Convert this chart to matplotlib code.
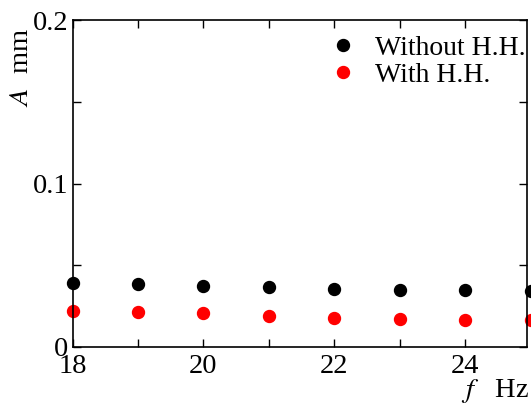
import numpy as np
import matplotlib.pyplot as plt

plt.rcParams['font.family'] = ['Liberation Serif', 'DejaVu Serif']
plt.rcParams['mathtext.fontset'] = 'stix'

f = [18, 19, 20, 21, 22, 23, 24, 25]
amp_without = [0.0393, 0.0385, 0.0375, 0.0365, 0.0357, 0.0350, 0.0349, 0.0344]
amp_with = [0.0222, 0.0216, 0.0206, 0.0191, 0.0177, 0.0169, 0.0167, 0.0165]

fig = plt.figure(figsize=(5.31, 4.07), dpi=100)
ax = fig.add_axes([72.5/531, 1 - 347/407, (527 - 72.5)/531, (347 - 20)/407])

ax.plot(f, amp_without, 'o', color='black', ms=8.6, clip_on=False, label='Without H.H.')
ax.plot(f, amp_with, 'o', color='red', ms=8.6, clip_on=False, label='With H.H.')

ax.set_xlim(18, 24.94)
ax.set_ylim(0, 0.2)
ax.set_xticks([18, 20, 22, 24])
ax.set_xticks([19, 21, 23], minor=True)
ax.set_yticks([0, 0.1, 0.2])
ax.set_yticklabels(['0', '0.1', '0.2'])
ax.set_yticks([0.05, 0.15], minor=True)
ax.tick_params(which='both', direction='in', top=True, right=True, labelsize=20.5, width=1)
ax.tick_params(which='both', length=6)
ax.tick_params(axis='x', pad=5)
ax.tick_params(axis='y', pad=3)
for s in ax.spines.values():
    s.set_linewidth(1.2)

fig.text(22/531, 1 - 68/407, r'$A$  mm', rotation=90, ha='center', va='center', fontsize=20.5)
fig.text(495/531, 1 - 391/407, r'$f$   Hz', ha='center', va='center', fontsize=20.5)

ax.legend(loc='upper right', bbox_to_anchor=(1.016, 0.979), frameon=False, fontsize=20,
          handlelength=1.0, handletextpad=0.68, labelspacing=0.06, borderaxespad=0.0,
          borderpad=0.3, markerscale=1.0)

fig.savefig('out.png', dpi=100)
